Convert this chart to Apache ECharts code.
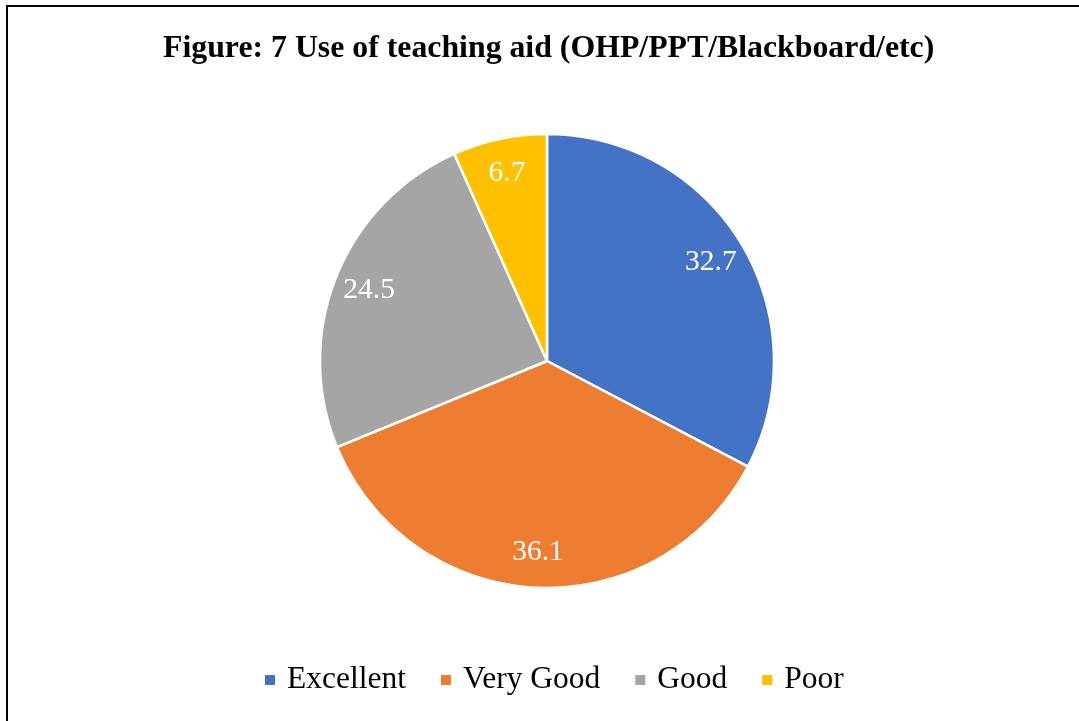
<!DOCTYPE html>
<html>
<head>
<meta charset="utf-8">
<script src="https://cdn.jsdelivr.net/npm/echarts@6/dist/echarts.min.js"></script>
<style>
  html, body { margin: 0; padding: 0; background: #fff; overflow: hidden; }
  #chart_pie { width: 1079px; height: 721px; }
</style>
</head>
<body>
<div id="chart_pie"></div>
<script>
var categories = ['Excellent', 'Very Good', 'Good', 'Poor']
var values = [32.7, 36.1, 24.5, 6.7]
var colors = ['#4472C4', '#ED7D31', '#A5A5A5', '#FFC000']

var pieData = categories.map(function (name, i) {
  return { name: name, value: values[i] }
})

var chart = echarts.init(document.getElementById('chart_pie'))
chart.setOption({
  color: colors,
  animation: false,
  title: {
    text: 'Figure: 7 Use of teaching aid (OHP/PPT/Blackboard/etc)',
    left: 158,
    top: 28,
    textStyle: {
      fontFamily: 'Liberation Serif',
      fontWeight: 'bold',
      fontSize: 31.8,
      color: '#000'
    }
  },
  legend: {
    bottom: 20,
    left: 258,
    icon: 'rect',
    itemWidth: 12,
    itemHeight: 12,
    itemGap: 33,
    textStyle: {
      fontFamily: 'Liberation Serif',
      fontSize: 31.5,
      color: '#000',
      padding: [0, 0, 0, 6]
    },
    data: categories
  },
  graphic: [
    {
      type: 'polyline',
      shape: { points: [[7, 730], [7, 6], [1090, 6]] },
      style: { fill: null, stroke: '#000', lineWidth: 2 },
      silent: true
    }
  ],
  series: [
    {
      type: 'pie',
      center: [547, 361],
      radius: [0, 227],
      startAngle: 90,
      clockwise: true,
      label: { show: false },
      labelLine: { show: false },
      itemStyle: { borderColor: '#fff', borderWidth: 2.5 },
      emphasis: { disabled: true },
      data: pieData
    },
    {
      // label ring only
      type: 'pie',
      center: [547, 361],
      radius: [150, 227],
      startAngle: 90,
      clockwise: true,
      silent: true,
      itemStyle: { color: 'rgba(0,0,0,0)', borderWidth: 0 },
      label: {
        show: true,
        position: 'inside',
        formatter: '{c}',
        fontFamily: 'Liberation Serif',
        fontSize: 29.5,
        color: '#fff'
      },
      labelLine: { show: false },
      emphasis: { disabled: true },
      data: pieData
    }
  ]
})
</script>
</body>
</html>
